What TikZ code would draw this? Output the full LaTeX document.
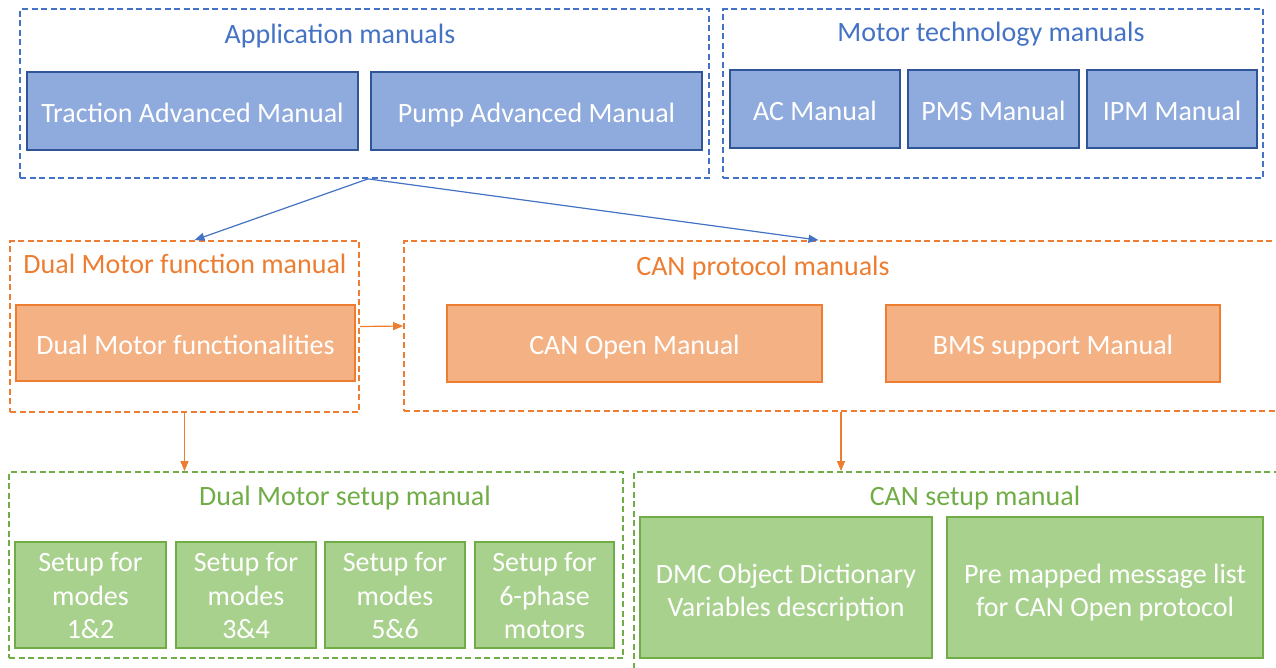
\documentclass[tikz,border=0pt]{standalone}
\usepackage{fontspec}
\setmainfont{Carlito}
\usetikzlibrary{arrows.meta}
\definecolor{bluet}{HTML}{4472C4}
\definecolor{bluef}{HTML}{8FAADC}
\definecolor{blued}{HTML}{2F5597}
\definecolor{orat}{HTML}{ED7D31}
\definecolor{oraf}{HTML}{F4B183}
\definecolor{grnt}{HTML}{70AD47}
\definecolor{grnf}{HTML}{A9D18E}
\newcommand\mytopstrut[1]{\rule{0pt}{#1}}
\newcommand\mybotstrut[1]{\rule[-#1]{0pt}{#1}}
\tikzset{
  grp/.style={draw, line width=1.8pt, dash pattern=on 6pt off 3.5pt, inner sep=0pt},
  bgrp/.style={grp, draw=bluet},
  ogrp/.style={grp, draw=orat},
  ggrp/.style={grp, draw=grnt},
  box/.style={line width=1.8pt, inner sep=0pt, text=white, align=center,
     font=\fontsize{28}{33.5}\selectfont},
  onel/.style={text height=22pt, text depth=0pt},
  bbox/.style={box, onel, draw=blued, fill=bluef},
  obox/.style={box, onel, draw=orat, fill=oraf},
  gbox/.style={box, draw=grnt, fill=grnf},
  ttl/.style={font=\fontsize{28}{33.5}\selectfont, inner sep=0pt, text height=22pt, text depth=0pt},
  conn/.style={line width=1.2pt, -{Triangle[length=10pt,width=8pt]}},
}
\begin{document}
\begin{tikzpicture}[x=1pt,y=-1pt]
\useasboundingbox (0,0) rectangle (1276,667);
% groups
\node[bgrp, minimum width=689, minimum height=169] (app) at (364.5,93.5) {};
\node[bgrp, minimum width=540, minimum height=169] (mot) at (993,93.5) {};
\node[ogrp, minimum width=349, minimum height=171] (dmf) at (184.5,326.5) {};
\node[ogrp, minimum width=881, minimum height=170] (canp) at (844.5,326) {};
\node[ggrp, minimum width=614, minimum height=186] (dms) at (316,565) {};
\node[ggrp, minimum width=651, minimum height=208] (cans) at (959.5,576) {};
% titles
\node[ttl, text=bluet] (appt) at (340,32.3) {Application manuals};
\node[ttl, text=bluet] (mott) at (991,30) {Motor technology manuals};
\node[ttl, text=orat] (dmft) at (185,262.5) {Dual Motor function manual};
\node[ttl, text=orat] (canpt) at (763,264.5) {CAN protocol manuals};
\node[ttl, text=grnt] (dmst) at (345,494.5) {Dual Motor setup manual};
\node[ttl, text=grnt] (canst) at (975,494.5) {CAN setup manual};
% boxes
\node[bbox, minimum width=331, minimum height=78] (trac) at (192.5,111) {Traction Advanced Manual};
\node[bbox, minimum width=331, minimum height=78] (pump) at (536.5,111) {Pump Advanced Manual};
\node[bbox, minimum width=170, minimum height=78] (ac) at (815,109) {AC Manual};
\node[bbox, minimum width=171, minimum height=78] (pms) at (993.5,109) {PMS Manual};
\node[bbox, minimum width=170, minimum height=78] (ipm) at (1172,109) {IPM Manual};
\node[obox, minimum width=339, minimum height=76] (dmfb) at (185.5,343) {Dual Motor functionalities};
\node[obox, minimum width=375, minimum height=77] (cano) at (634.5,343.5) {CAN Open Manual};
\node[obox, minimum width=334, minimum height=77] (bms) at (1053,343.5) {BMS support Manual};
\node[gbox, minimum width=151, minimum height=106] (s1) at (90.5,595) {\mytopstrut{26.4pt}Setup for\\modes\\1\&2\mybotstrut{6pt}};
\node[gbox, minimum width=140, minimum height=106] (s2) at (246,595) {\mytopstrut{26.4pt}Setup for\\modes\\3\&4\mybotstrut{6pt}};
\node[gbox, minimum width=140, minimum height=106] (s3) at (395,595) {\mytopstrut{26.4pt}Setup for\\modes\\5\&6\mybotstrut{6pt}};
\node[gbox, minimum width=139, minimum height=106] (s4) at (544.5,595) {\mytopstrut{26.4pt}Setup for\\6-phase\\motors\mybotstrut{6pt}};
\node[gbox, minimum width=292, minimum height=141] (dmc) at (786,587.5) {\mytopstrut{31.5pt}DMC Object Dictionary\\Variables description\mybotstrut{7pt}};
\node[gbox, minimum width=316, minimum height=141] (pre) at (1105,587.5) {\mytopstrut{31.5pt}Pre mapped message list\\for CAN Open protocol\mybotstrut{7pt}};
% connectors
\coordinate (appo) at ([xshift=3.5pt]app.south);
\draw[conn, bluet] (appo) -- ([xshift=10pt]dmf.north);
\draw[conn, bluet] (appo) -- ([xshift=-26pt]canp.north);
\draw[conn, orat] (dmf.east) -- (canp.west);
\draw[conn, orat] (dmf.south) -- (dmf.south |- dms.north);
\draw[conn, orat] ([xshift=-3.5pt]canp.south) -- ([xshift=-3.5pt]canp.south |- cans.north);
\end{tikzpicture}
\end{document}
